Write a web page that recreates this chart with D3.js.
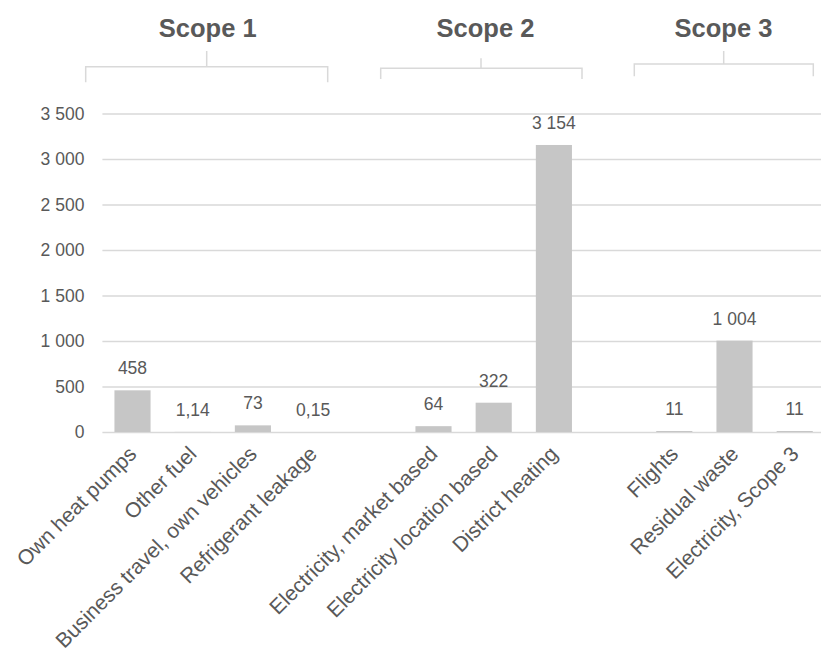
<!DOCTYPE html>
<html>
<head>
<meta charset="utf-8">
<script src="https://cdn.jsdelivr.net/npm/d3@7"></script>
<style>
  html, body { margin: 0; padding: 0; background: #fff; }
  svg { display: block; font-family: "Liberation Sans", Arial, sans-serif; }
</style>
</head>
<body>
<svg id="chart" width="821" height="653"></svg>
<script>
// ---- data ----
const categories = [
  "Own heat pumps", "Other fuel", "Business travel, own vehicles", "Refrigerant leakage",
  "",
  "Electricity, market based", "Electricity location based", "District heating",
  "",
  "Flights", "Residual waste", "Electricity, Scope 3"
];
const values = [458, 1.14, 73, 0.15, null, 64, 322, 3154, null, 11, 1004, 11];
const yTicks = [0, 500, 1000, 1500, 2000, 2500, 3000, 3500];
const scopeNames = ["Scope 1", "Scope 2", "Scope 3"];

// ---- layout (pixels) ----
const plot = { left: 102.4, right: 824.8, top: 113.5, bottom: 432 };
const scopeLayout = [
  { titleX: 207.7, titleY: 36.5, lineY: 66.7, x0: 85.7, x1: 327.7, endY: 82.3, tickX: 206.7, tickTop: 51 },
  { titleX: 485.5, titleY: 37.3, lineY: 68.3, x0: 380.7, x1: 582, endY: 79, tickX: 481, tickTop: 58.3 },
  { titleX: 723.5, titleY: 36.7, lineY: 64, x0: 634.3, x1: 813.3, endY: 76.3, tickX: 723.7, tickTop: 51 }
];
const textColor = "#595959";
const gridColor = "#d9d9d9";
const barColor = "#c6c6c6";

const svg = d3.select("#chart");

const x = d3.scaleBand()
  .domain(categories.map((d, i) => i))
  .range([plot.left, plot.right])
  .paddingInner(0.4)
  .paddingOuter(0.2);

const y = d3.scaleLinear()
  .domain([0, 3500])
  .range([plot.bottom, plot.top]);

// number format: space thousands, comma decimal
const locale = d3.formatLocale({ decimal: ",", thousands: "\u00a0", grouping: [3], currency: ["", ""] });
const fmtInt = locale.format(",d");
const fmtDec = locale.format(",.2f");
const fmtVal = v => Number.isInteger(v) ? fmtInt(v) : fmtDec(v);

// gridlines + y axis labels
const yAxis = d3.axisLeft(y).tickValues(yTicks).tickFormat(fmtInt)
  .tickSize(-(plot.right - plot.left)).tickPadding(18);
const gy = svg.append("g").attr("transform", `translate(${plot.left},0)`).call(yAxis);
gy.select(".domain").remove();
gy.selectAll(".tick line").attr("stroke", gridColor).attr("stroke-width", 1.3);
gy.selectAll(".tick text")
  .attr("fill", textColor)
  .attr("font-size", "17.5px")
  .attr("font-family", "'Liberation Sans', Arial, sans-serif");

// bars
const data = categories.map((c, i) => ({ i, c, v: values[i] })).filter(d => d.v !== null);
svg.append("g").selectAll("rect").data(data).join("rect")
  .attr("x", d => x(d.i))
  .attr("width", x.bandwidth())
  .attr("y", d => y(d.v))
  .attr("height", d => y(0) - y(d.v))
  .attr("fill", barColor);

// value labels
svg.append("g").selectAll("text").data(data).join("text")
  .attr("x", d => x(d.i) + x.bandwidth() / 2)
  .attr("y", d => y(d.v) - 16)
  .attr("text-anchor", "middle")
  .attr("fill", textColor)
  .attr("font-size", "17.5px")
  .text(d => fmtVal(d.v));

// category labels (rotated)
svg.append("g").selectAll("text").data(categories.map((c, i) => ({ c, i })).filter(d => d.c !== ""))
  .join("text")
  .attr("transform", d => `translate(${x(d.i) + x.bandwidth() / 2},${plot.bottom + 18}) rotate(-45)`)
  .attr("text-anchor", "end")
  .attr("dy", "0.35em")
  .attr("fill", textColor)
  .attr("font-size", "21px")
  .text(d => d.c);

// scope headers with brackets
const sg = svg.append("g");
scopeLayout.forEach((s, k) => {
  sg.append("text")
    .attr("x", s.titleX).attr("y", s.titleY)
    .attr("text-anchor", "middle")
    .attr("fill", textColor)
    .attr("font-size", "25.5px")
    .attr("font-weight", "bold")
    .text(scopeNames[k]);
  sg.append("path")
    .attr("d", `M${s.x0},${s.endY}V${s.lineY}H${s.x1}V${s.endY}M${s.tickX},${s.lineY}V${s.tickTop}`)
    .attr("fill", "none")
    .attr("stroke", gridColor)
    .attr("stroke-width", 1.5);
});
</script>
</body>
</html>
